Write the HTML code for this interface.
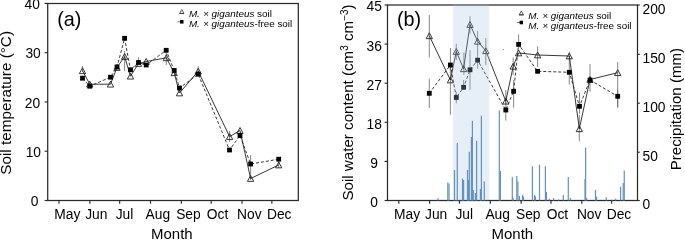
<!DOCTYPE html>
<html><head><meta charset="utf-8"><style>html,body{margin:0;padding:0;background:#fff;overflow:hidden}svg{display:block;will-change:transform}</style></head>
<body>
<svg width="685" height="240" viewBox="0 0 685 240" font-family='"Liberation Sans", sans-serif'>
<rect width="685" height="240" fill="#fff"/>
<rect x="47.7" y="3.5" width="250.6" height="197" fill="none" stroke="#2b2b2b" stroke-width="1.25"/>
<line x1="59" y1="200.5" x2="59" y2="203.7" stroke="#2b2b2b" stroke-width="1.15"/>
<text x="54.3" y="218.7" font-size="13.8" fill="#000">May</text>
<line x1="89.83" y1="200.5" x2="89.83" y2="203.7" stroke="#2b2b2b" stroke-width="1.15"/>
<text x="85.23" y="218.7" font-size="13.8" fill="#000">Jun</text>
<line x1="119.67" y1="200.5" x2="119.67" y2="203.7" stroke="#2b2b2b" stroke-width="1.15"/>
<text x="115.67" y="218.7" font-size="13.8" fill="#000">Jul</text>
<line x1="150.5" y1="200.5" x2="150.5" y2="203.7" stroke="#2b2b2b" stroke-width="1.15"/>
<text x="145.6" y="218.7" font-size="13.8" fill="#000">Aug</text>
<line x1="181.34" y1="200.5" x2="181.34" y2="203.7" stroke="#2b2b2b" stroke-width="1.15"/>
<text x="176.14" y="218.7" font-size="13.8" fill="#000">Sep</text>
<line x1="211.17" y1="200.5" x2="211.17" y2="203.7" stroke="#2b2b2b" stroke-width="1.15"/>
<text x="206.87" y="218.7" font-size="13.8" fill="#000">Oct</text>
<line x1="242.01" y1="200.5" x2="242.01" y2="203.7" stroke="#2b2b2b" stroke-width="1.15"/>
<text x="237.11" y="218.7" font-size="13.8" fill="#000">Nov</text>
<line x1="271.84" y1="200.5" x2="271.84" y2="203.7" stroke="#2b2b2b" stroke-width="1.15"/>
<text x="266.94" y="218.7" font-size="13.8" fill="#000">Dec</text>
<rect x="387.5" y="5" width="250" height="195.5" fill="none" stroke="#2b2b2b" stroke-width="1.25"/>
<line x1="398.8" y1="200.5" x2="398.8" y2="203.7" stroke="#2b2b2b" stroke-width="1.15"/>
<text x="394.1" y="218.7" font-size="13.8" fill="#000">May</text>
<line x1="429.63" y1="200.5" x2="429.63" y2="203.7" stroke="#2b2b2b" stroke-width="1.15"/>
<text x="425.03" y="218.7" font-size="13.8" fill="#000">Jun</text>
<line x1="459.47" y1="200.5" x2="459.47" y2="203.7" stroke="#2b2b2b" stroke-width="1.15"/>
<text x="455.47" y="218.7" font-size="13.8" fill="#000">Jul</text>
<line x1="490.3" y1="200.5" x2="490.3" y2="203.7" stroke="#2b2b2b" stroke-width="1.15"/>
<text x="485.4" y="218.7" font-size="13.8" fill="#000">Aug</text>
<line x1="521.14" y1="200.5" x2="521.14" y2="203.7" stroke="#2b2b2b" stroke-width="1.15"/>
<text x="515.94" y="218.7" font-size="13.8" fill="#000">Sep</text>
<line x1="550.97" y1="200.5" x2="550.97" y2="203.7" stroke="#2b2b2b" stroke-width="1.15"/>
<text x="546.67" y="218.7" font-size="13.8" fill="#000">Oct</text>
<line x1="581.81" y1="200.5" x2="581.81" y2="203.7" stroke="#2b2b2b" stroke-width="1.15"/>
<text x="576.91" y="218.7" font-size="13.8" fill="#000">Nov</text>
<line x1="611.64" y1="200.5" x2="611.64" y2="203.7" stroke="#2b2b2b" stroke-width="1.15"/>
<text x="606.74" y="218.7" font-size="13.8" fill="#000">Dec</text>
<line x1="44.6" y1="3.4" x2="47.7" y2="3.4" stroke="#2b2b2b" stroke-width="1.15"/>
<text x="24.6" y="9" font-size="13.8" fill="#000">40</text>
<line x1="44.6" y1="52.67" x2="47.7" y2="52.67" stroke="#2b2b2b" stroke-width="1.15"/>
<text x="25.4" y="58.27" font-size="13.8" fill="#000">30</text>
<line x1="44.6" y1="101.95" x2="47.7" y2="101.95" stroke="#2b2b2b" stroke-width="1.15"/>
<text x="24.8" y="107.55" font-size="13.8" fill="#000">20</text>
<line x1="44.6" y1="151.22" x2="47.7" y2="151.22" stroke="#2b2b2b" stroke-width="1.15"/>
<text x="25.65" y="156.82" font-size="13.8" fill="#000">10</text>
<line x1="44.6" y1="200.5" x2="47.7" y2="200.5" stroke="#2b2b2b" stroke-width="1.15"/>
<text x="30.65" y="206.1" font-size="13.8" fill="#000">0</text>
<line x1="384.6" y1="5" x2="387.5" y2="5" stroke="#2b2b2b" stroke-width="1.15"/>
<text x="374.2" y="11.45" font-size="13.8" fill="#000" text-anchor="middle">45</text>
<line x1="384.6" y1="44.1" x2="387.5" y2="44.1" stroke="#2b2b2b" stroke-width="1.15"/>
<text x="374.2" y="50.55" font-size="13.8" fill="#000" text-anchor="middle">36</text>
<line x1="384.6" y1="83.2" x2="387.5" y2="83.2" stroke="#2b2b2b" stroke-width="1.15"/>
<text x="374.2" y="89.65" font-size="13.8" fill="#000" text-anchor="middle">27</text>
<line x1="384.6" y1="122.3" x2="387.5" y2="122.3" stroke="#2b2b2b" stroke-width="1.15"/>
<text x="374.2" y="128.75" font-size="13.8" fill="#000" text-anchor="middle">18</text>
<line x1="384.6" y1="161.4" x2="387.5" y2="161.4" stroke="#2b2b2b" stroke-width="1.15"/>
<text x="374.2" y="167.85" font-size="13.8" fill="#000" text-anchor="middle">9</text>
<line x1="384.6" y1="200.5" x2="387.5" y2="200.5" stroke="#2b2b2b" stroke-width="1.15"/>
<text x="374.2" y="206.95" font-size="13.8" fill="#000" text-anchor="middle">0</text>
<line x1="637.5" y1="5" x2="639.8" y2="5" stroke="#2b2b2b" stroke-width="1.15"/>
<text x="642.5" y="13.7" font-size="13.8" fill="#000">200</text>
<line x1="637.5" y1="54.3" x2="639.8" y2="54.3" stroke="#2b2b2b" stroke-width="1.15"/>
<text x="642.5" y="63" font-size="13.8" fill="#000">150</text>
<line x1="637.5" y1="103.2" x2="639.8" y2="103.2" stroke="#2b2b2b" stroke-width="1.15"/>
<text x="642.5" y="111.9" font-size="13.8" fill="#000">100</text>
<line x1="637.5" y1="152.2" x2="639.8" y2="152.2" stroke="#2b2b2b" stroke-width="1.15"/>
<text x="642.5" y="160.9" font-size="13.8" fill="#000">50</text>
<line x1="637.5" y1="200.5" x2="639.8" y2="200.5" stroke="#2b2b2b" stroke-width="1.15"/>
<text x="642.5" y="209.2" font-size="13.8" fill="#000">0</text>
<text x="151" y="239.3" font-size="15" fill="#000">Month</text>
<text x="491.5" y="239" font-size="15" fill="#000">Month</text>
<text transform="translate(11.0,102.9) rotate(-90)" font-size="15.3" text-anchor="middle" fill="#000">Soil temperature (°C)</text>
<text transform="translate(353.2,102.5) rotate(-90)" font-size="15.15" text-anchor="middle" fill="#000">Soil water content (cm<tspan font-size="10" dy="-5">3</tspan><tspan dy="5"> cm</tspan><tspan font-size="10" dy="-5">−3</tspan><tspan dy="5">)</tspan></text>
<text transform="translate(680.6,109.1) rotate(-90)" font-size="15.1" text-anchor="middle" fill="#000">Precipitation (mm)</text>
<text x="57.2" y="25.6" font-size="19.8" fill="#000">(a)</text>
<text x="396.9" y="26.4" font-size="19.8" fill="#000">(b)</text>
<path d="M181.8,9.5 L183.9,13.4 L179.7,13.4 Z" fill="#fff" stroke="#333" stroke-width="0.8"/>
<line x1="179.5" y1="13.5" x2="184.1" y2="13.5" stroke="#333" stroke-width="0.9"/>
<line x1="177.5" y1="21.8" x2="181.8" y2="21.8" stroke="#333" stroke-width="0.7"/>
<rect x="180.1" y="20" width="3.4" height="3.6" fill="#000"/>
<path d="M521.3,10.9 L523.4,14.8 L519.2,14.8 Z" fill="#fff" stroke="#333" stroke-width="0.8"/>
<line x1="519" y1="14.9" x2="523.6" y2="14.9" stroke="#333" stroke-width="0.9"/>
<line x1="517" y1="22.5" x2="521.3" y2="22.5" stroke="#333" stroke-width="0.7"/>
<rect x="519.6" y="20.7" width="3.4" height="3.6" fill="#000"/>
<text x="188.9" y="17.3" font-size="9.9" fill="#000"><tspan font-style="italic">M.</tspan> <tspan font-style="italic" dx="0.6" font-size="9.5">&#xD7;</tspan> <tspan font-style="italic">giganteus</tspan> soil</text>
<text x="188.9" y="27" font-size="9.9" fill="#000"><tspan font-style="italic">M.</tspan> <tspan font-style="italic" dx="0.6" font-size="9.5">&#xD7;</tspan> <tspan font-style="italic">giganteus</tspan>-free soil</text>
<text x="528.2" y="19" font-size="9.9" fill="#000"><tspan font-style="italic">M.</tspan> <tspan font-style="italic" dx="0.6" font-size="9.5">&#xD7;</tspan> <tspan font-style="italic">giganteus</tspan> soil</text>
<text x="528.2" y="28.5" font-size="9.9" fill="#000"><tspan font-style="italic">M.</tspan> <tspan font-style="italic" dx="0.6" font-size="9.5">&#xD7;</tspan> <tspan font-style="italic">giganteus</tspan>-free soil</text>
<line x1="82.5" y1="66" x2="82.5" y2="72" stroke="#555" stroke-width="0.7"/>
<line x1="124.6" y1="51" x2="124.6" y2="71" stroke="#555" stroke-width="0.7"/>
<line x1="166.3" y1="52" x2="166.3" y2="65" stroke="#555" stroke-width="0.7"/>
<line x1="138.5" y1="57.5" x2="138.5" y2="64" stroke="#555" stroke-width="0.7"/>
<line x1="198.2" y1="66" x2="198.2" y2="72" stroke="#555" stroke-width="0.7"/>
<line x1="229.6" y1="131" x2="229.6" y2="142" stroke="#555" stroke-width="0.7"/>
<line x1="250.6" y1="155" x2="250.6" y2="180" stroke="#555" stroke-width="0.7"/>
<line x1="278.7" y1="161" x2="278.7" y2="168" stroke="#555" stroke-width="0.7"/>
<polyline points="82.5,70.8 89.8,84.2 110.5,84.2 117,67.5 124.6,56.5 130.5,76.2 138.5,63.5 146.2,61.5 166.3,57.8 174.2,72.8 179.5,93 198.2,71.2 229.6,136.6 240,130.5 250.6,178.5 278.7,165" fill="none" stroke="#222" stroke-width="0.9"/>
<polyline points="82.5,78.2 89.8,86.2 110.5,77.2 117,67 124.6,38.3 130.5,69.8 138.5,62.5 146.2,65 166.2,50.3 174.2,70.5 179.5,88 198.2,74.2 229.5,150 240,135.5 250.6,164 278.7,159.2" fill="none" stroke="#222" stroke-width="0.9" stroke-dasharray="3,2"/>
<path d="M82.5,67.8 L85.65,73.65 L79.35,73.65 Z" fill="none" stroke="#222" stroke-width="0.9"/>
<path d="M89.8,81.2 L92.95,87.05 L86.65,87.05 Z" fill="none" stroke="#222" stroke-width="0.9"/>
<path d="M110.5,81.2 L113.65,87.05 L107.35,87.05 Z" fill="none" stroke="#222" stroke-width="0.9"/>
<path d="M117,64.5 L120.15,70.35 L113.85,70.35 Z" fill="none" stroke="#222" stroke-width="0.9"/>
<path d="M124.6,53.5 L127.75,59.35 L121.45,59.35 Z" fill="none" stroke="#222" stroke-width="0.9"/>
<path d="M130.5,73.2 L133.65,79.05 L127.35,79.05 Z" fill="none" stroke="#222" stroke-width="0.9"/>
<path d="M138.5,60.5 L141.65,66.35 L135.35,66.35 Z" fill="none" stroke="#222" stroke-width="0.9"/>
<path d="M146.2,58.5 L149.35,64.35 L143.05,64.35 Z" fill="none" stroke="#222" stroke-width="0.9"/>
<path d="M166.3,54.8 L169.45,60.65 L163.15,60.65 Z" fill="none" stroke="#222" stroke-width="0.9"/>
<path d="M174.2,69.8 L177.35,75.65 L171.05,75.65 Z" fill="none" stroke="#222" stroke-width="0.9"/>
<path d="M179.5,90 L182.65,95.85 L176.35,95.85 Z" fill="none" stroke="#222" stroke-width="0.9"/>
<path d="M198.2,68.2 L201.35,74.05 L195.05,74.05 Z" fill="none" stroke="#222" stroke-width="0.9"/>
<path d="M229.6,133.6 L232.75,139.45 L226.45,139.45 Z" fill="none" stroke="#222" stroke-width="0.9"/>
<path d="M240,127.5 L243.15,133.35 L236.85,133.35 Z" fill="none" stroke="#222" stroke-width="0.9"/>
<path d="M250.6,175.5 L253.75,181.35 L247.45,181.35 Z" fill="none" stroke="#222" stroke-width="0.9"/>
<path d="M278.7,162 L281.85,167.85 L275.55,167.85 Z" fill="none" stroke="#222" stroke-width="0.9"/>
<rect x="80.1" y="75.8" width="4.8" height="4.8" fill="#000"/>
<rect x="87.4" y="83.8" width="4.8" height="4.8" fill="#000"/>
<rect x="108.1" y="74.8" width="4.8" height="4.8" fill="#000"/>
<rect x="114.6" y="64.6" width="4.8" height="4.8" fill="#000"/>
<rect x="122.2" y="35.9" width="4.8" height="4.8" fill="#000"/>
<rect x="128.1" y="67.4" width="4.8" height="4.8" fill="#000"/>
<rect x="136.1" y="60.1" width="4.8" height="4.8" fill="#000"/>
<rect x="143.8" y="62.6" width="4.8" height="4.8" fill="#000"/>
<rect x="163.8" y="47.9" width="4.8" height="4.8" fill="#000"/>
<rect x="171.8" y="68.1" width="4.8" height="4.8" fill="#000"/>
<rect x="177.1" y="85.6" width="4.8" height="4.8" fill="#000"/>
<rect x="195.8" y="71.8" width="4.8" height="4.8" fill="#000"/>
<rect x="227.1" y="147.6" width="4.8" height="4.8" fill="#000"/>
<rect x="237.6" y="133.1" width="4.8" height="4.8" fill="#000"/>
<rect x="248.2" y="161.6" width="4.8" height="4.8" fill="#000"/>
<rect x="276.3" y="156.8" width="4.8" height="4.8" fill="#000"/>
<line x1="429.3" y1="15" x2="429.3" y2="57.5" stroke="#555" stroke-width="0.7"/>
<line x1="450.4" y1="65" x2="450.4" y2="114.7" stroke="#555" stroke-width="0.7"/>
<line x1="456.3" y1="43.75" x2="456.3" y2="60" stroke="#555" stroke-width="0.7"/>
<line x1="463.9" y1="52.5" x2="463.9" y2="75" stroke="#555" stroke-width="0.7"/>
<line x1="470" y1="16.25" x2="470" y2="33.75" stroke="#555" stroke-width="0.7"/>
<line x1="477.6" y1="31" x2="477.6" y2="52" stroke="#555" stroke-width="0.7"/>
<line x1="485.8" y1="38" x2="485.8" y2="65" stroke="#555" stroke-width="0.7"/>
<line x1="505.8" y1="90" x2="505.8" y2="104" stroke="#555" stroke-width="0.7"/>
<line x1="513.2" y1="57.5" x2="513.2" y2="75" stroke="#555" stroke-width="0.7"/>
<line x1="537.6" y1="46.3" x2="537.6" y2="67" stroke="#555" stroke-width="0.7"/>
<line x1="569.3" y1="52" x2="569.3" y2="84.6" stroke="#555" stroke-width="0.7"/>
<line x1="579.3" y1="115" x2="579.3" y2="141.25" stroke="#555" stroke-width="0.7"/>
<line x1="617.7" y1="62" x2="617.7" y2="107.5" stroke="#555" stroke-width="0.7"/>
<line x1="429.3" y1="78.75" x2="429.3" y2="108" stroke="#555" stroke-width="0.7"/>
<line x1="450.4" y1="48" x2="450.4" y2="70" stroke="#555" stroke-width="0.7"/>
<line x1="456.3" y1="92" x2="456.3" y2="103.3" stroke="#555" stroke-width="0.7"/>
<line x1="463.6" y1="80" x2="463.6" y2="90" stroke="#555" stroke-width="0.7"/>
<line x1="470" y1="50" x2="470" y2="90" stroke="#555" stroke-width="0.7"/>
<line x1="477.6" y1="51.7" x2="477.6" y2="68.75" stroke="#555" stroke-width="0.7"/>
<line x1="505.8" y1="100" x2="505.8" y2="120.6" stroke="#555" stroke-width="0.7"/>
<line x1="513.6" y1="80" x2="513.6" y2="107.6" stroke="#555" stroke-width="0.7"/>
<line x1="518.6" y1="34.4" x2="518.6" y2="48" stroke="#555" stroke-width="0.7"/>
<line x1="579.5" y1="92.5" x2="579.5" y2="113.75" stroke="#555" stroke-width="0.7"/>
<line x1="590" y1="64" x2="590" y2="91.7" stroke="#555" stroke-width="0.7"/>
<line x1="617.7" y1="90" x2="617.7" y2="107.5" stroke="#555" stroke-width="0.7"/>
<polyline points="429.3,35.8 450.4,80 456.3,51.5 463.6,68.8 470,24.5 477.6,41.3 485.8,50.8 505.8,101.2 513.2,66.3 518.6,53 537.6,55 569.3,56 579.3,128.8 590,79.5 617.7,72.7" fill="none" stroke="#222" stroke-width="0.9"/>
<polyline points="429.3,93.3 450.4,65 456.3,97.5 463.6,87.3 470,69.8 477.6,60.2 505.8,110 513.6,91.3 518.6,44.4 537.6,71.3 569.3,72.3 579.5,106.3 590,80 617.7,96.3" fill="none" stroke="#222" stroke-width="0.9" stroke-dasharray="3,2"/>
<path d="M429.3,32.8 L432.45,38.65 L426.15,38.65 Z" fill="none" stroke="#222" stroke-width="0.9"/>
<path d="M450.4,77 L453.55,82.85 L447.25,82.85 Z" fill="none" stroke="#222" stroke-width="0.9"/>
<path d="M456.3,48.5 L459.45,54.35 L453.15,54.35 Z" fill="none" stroke="#222" stroke-width="0.9"/>
<path d="M463.6,65.8 L466.75,71.65 L460.45,71.65 Z" fill="none" stroke="#222" stroke-width="0.9"/>
<path d="M470,21.5 L473.15,27.35 L466.85,27.35 Z" fill="none" stroke="#222" stroke-width="0.9"/>
<path d="M477.6,38.3 L480.75,44.15 L474.45,44.15 Z" fill="none" stroke="#222" stroke-width="0.9"/>
<path d="M485.8,47.8 L488.95,53.65 L482.65,53.65 Z" fill="none" stroke="#222" stroke-width="0.9"/>
<path d="M505.8,98.2 L508.95,104.05 L502.65,104.05 Z" fill="none" stroke="#222" stroke-width="0.9"/>
<path d="M513.2,63.3 L516.35,69.15 L510.05,69.15 Z" fill="none" stroke="#222" stroke-width="0.9"/>
<path d="M518.6,50 L521.75,55.85 L515.45,55.85 Z" fill="none" stroke="#222" stroke-width="0.9"/>
<path d="M537.6,52 L540.75,57.85 L534.45,57.85 Z" fill="none" stroke="#222" stroke-width="0.9"/>
<path d="M569.3,53 L572.45,58.85 L566.15,58.85 Z" fill="none" stroke="#222" stroke-width="0.9"/>
<path d="M579.3,125.8 L582.45,131.65 L576.15,131.65 Z" fill="none" stroke="#222" stroke-width="0.9"/>
<path d="M590,76.5 L593.15,82.35 L586.85,82.35 Z" fill="none" stroke="#222" stroke-width="0.9"/>
<path d="M617.7,69.7 L620.85,75.55 L614.55,75.55 Z" fill="none" stroke="#222" stroke-width="0.9"/>
<rect x="426.9" y="90.9" width="4.8" height="4.8" fill="#000"/>
<rect x="448" y="62.6" width="4.8" height="4.8" fill="#000"/>
<rect x="453.9" y="95.1" width="4.8" height="4.8" fill="#000"/>
<rect x="461.2" y="84.9" width="4.8" height="4.8" fill="#000"/>
<rect x="467.6" y="67.4" width="4.8" height="4.8" fill="#000"/>
<rect x="475.2" y="57.8" width="4.8" height="4.8" fill="#000"/>
<rect x="503.4" y="107.6" width="4.8" height="4.8" fill="#000"/>
<rect x="511.2" y="88.9" width="4.8" height="4.8" fill="#000"/>
<rect x="516.2" y="42" width="4.8" height="4.8" fill="#000"/>
<rect x="535.2" y="68.9" width="4.8" height="4.8" fill="#000"/>
<rect x="566.9" y="69.9" width="4.8" height="4.8" fill="#000"/>
<rect x="577.1" y="103.9" width="4.8" height="4.8" fill="#000"/>
<rect x="587.6" y="77.6" width="4.8" height="4.8" fill="#000"/>
<rect x="615.3" y="93.9" width="4.8" height="4.8" fill="#000"/>
<rect x="453" y="4.5" width="36.2" height="196" fill="rgb(163,193,230)" fill-opacity="0.27"/>
<rect x="437.4" y="198.1" width="1.2" height="2.4" fill="#6392bf"/>
<rect x="447.2" y="182.5" width="1.2" height="18" fill="#6392bf"/>
<rect x="448.4" y="183.6" width="1.2" height="16.9" fill="#6392bf"/>
<rect x="453.9" y="170" width="1.2" height="30.5" fill="#6392bf"/>
<rect x="456.7" y="142.9" width="1.2" height="57.6" fill="#6392bf"/>
<rect x="461.9" y="178.6" width="1.2" height="21.9" fill="#6392bf"/>
<rect x="463" y="180" width="1.2" height="20.5" fill="#6392bf"/>
<rect x="466.9" y="170" width="1.2" height="30.5" fill="#6392bf"/>
<rect x="468" y="180" width="1.2" height="20.5" fill="#6392bf"/>
<rect x="468.7" y="151.7" width="1.2" height="48.8" fill="#6392bf"/>
<rect x="470.8" y="137" width="1.2" height="63.5" fill="#6392bf"/>
<rect x="471.8" y="120.8" width="1.2" height="79.7" fill="#6392bf"/>
<rect x="472.7" y="190" width="1.2" height="10.5" fill="#6392bf"/>
<rect x="474.8" y="193" width="1.2" height="7.5" fill="#6392bf"/>
<rect x="476" y="140.8" width="1.2" height="59.7" fill="#6392bf"/>
<rect x="479.8" y="189" width="1.2" height="11.5" fill="#6392bf"/>
<rect x="480.8" y="115.7" width="1.2" height="84.8" fill="#6392bf"/>
<rect x="483.7" y="181.4" width="1.2" height="19.1" fill="#6392bf"/>
<rect x="498.7" y="110.4" width="1.2" height="90.1" fill="#6392bf"/>
<rect x="499.8" y="171" width="1.2" height="29.5" fill="#6392bf"/>
<rect x="511.7" y="177" width="1.2" height="23.5" fill="#6392bf"/>
<rect x="512.5" y="197.7" width="1.2" height="2.8" fill="#6392bf"/>
<rect x="516.2" y="176" width="1.2" height="24.5" fill="#6392bf"/>
<rect x="517.3" y="181.4" width="1.2" height="19.1" fill="#6392bf"/>
<rect x="518.8" y="196" width="1.2" height="4.5" fill="#6392bf"/>
<rect x="522" y="195" width="1.2" height="5.5" fill="#6392bf"/>
<rect x="522.9" y="196.6" width="1.2" height="3.9" fill="#6392bf"/>
<rect x="531.8" y="166.25" width="1.2" height="34.25" fill="#6392bf"/>
<rect x="533.9" y="195" width="1.2" height="5.5" fill="#6392bf"/>
<rect x="534.8" y="196.5" width="1.2" height="4" fill="#6392bf"/>
<rect x="538.9" y="164.7" width="1.2" height="35.8" fill="#6392bf"/>
<rect x="544.8" y="166.25" width="1.2" height="34.25" fill="#6392bf"/>
<rect x="545.8" y="191.8" width="1.2" height="8.7" fill="#6392bf"/>
<rect x="548.65" y="198.75" width="1.2" height="1.75" fill="#6392bf"/>
<rect x="553" y="198.1" width="1.2" height="2.4" fill="#6392bf"/>
<rect x="558" y="199.4" width="1.2" height="1.1" fill="#6392bf"/>
<rect x="562.7" y="194.9" width="1.2" height="5.6" fill="#6392bf"/>
<rect x="567.7" y="177" width="1.2" height="23.5" fill="#6392bf"/>
<rect x="569.8" y="198" width="1.2" height="2.5" fill="#6392bf"/>
<rect x="584.4" y="179" width="1.2" height="21.5" fill="#6392bf"/>
<rect x="585" y="147.5" width="1.2" height="53" fill="#6392bf"/>
<rect x="586.1" y="198" width="1.2" height="2.5" fill="#6392bf"/>
<rect x="594.9" y="190" width="1.2" height="10.5" fill="#6392bf"/>
<rect x="595.9" y="196.6" width="1.2" height="3.9" fill="#6392bf"/>
<rect x="605.7" y="197.2" width="1.2" height="3.3" fill="#6392bf"/>
<rect x="611.6" y="199.8" width="1.2" height="0.7" fill="#6392bf"/>
<rect x="615" y="198.75" width="1.2" height="1.75" fill="#6392bf"/>
<rect x="620" y="186.8" width="1.2" height="13.7" fill="#6392bf"/>
<rect x="622.6" y="183" width="1.2" height="17.5" fill="#6392bf"/>
<rect x="623.65" y="170.6" width="1.2" height="29.9" fill="#6392bf"/>
<circle cx="503.3" cy="49.5" r="0.5" fill="#555"/>
</svg>
</body></html>
